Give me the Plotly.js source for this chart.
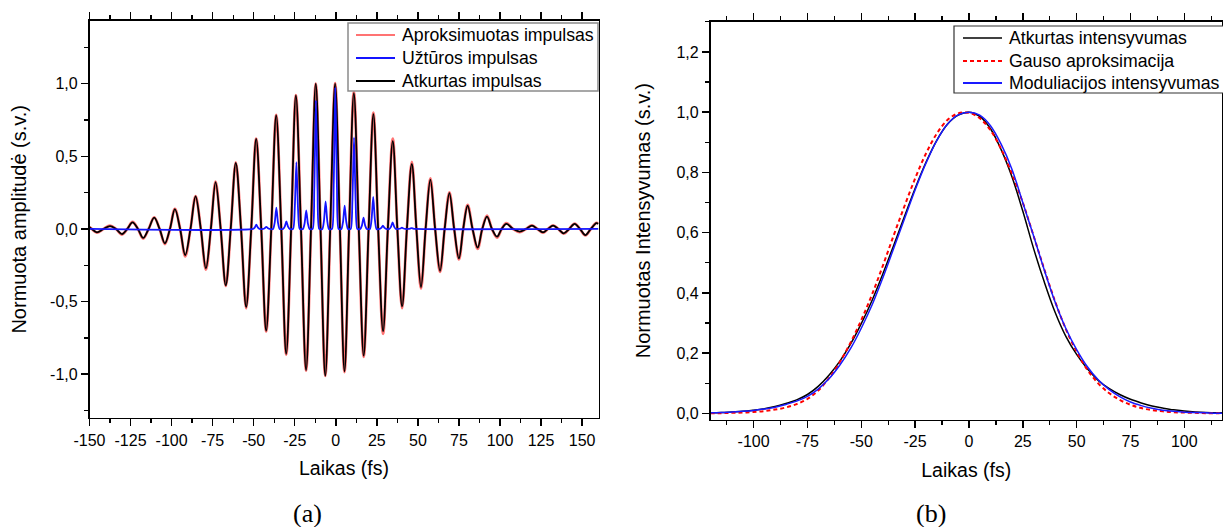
<!DOCTYPE html>
<html>
<head>
<meta charset="utf-8">
<script src="https://cdn.plot.ly/plotly-3.0.1.min.js"></script>
<style>html,body{margin:0;padding:0;background:#fff;}#chart{width:1223px;height:527px;}</style>
</head>
<body>
<div id="chart"></div>
<script>
// ---- Panel (a): pulse field (extrema and zero crossings)
const tPulse = [-150, -148.6, -145.5, -141.5, -137.5, -133.9, -130.2, -127.0, -123.8, -120.5, -117.3, -114.0, -110.6, -107.3, -104.1, -101.0, -98.0, -94.8, -91.7, -88.5, -85.4, -82.2, -79.1, -76.1, -73.2, -70.1, -67.0, -64.0, -60.9, -57.7, -54.6, -51.5, -48.5, -45.4, -42.4, -39.3, -36.3, -33.2, -30.2, -27.2, -24.3, -21.2, -18.1, -15.1, -12.2, -9.3, -6.4, -3.4, -0.4, 2.5, 5.3, 8.1, 11.0, 14.0, 17.0, 20.0, 22.9, 25.8, 28.8, 31.7, 34.7, 37.5, 40.4, 43.3, 46.3, 49.1, 51.9, 54.7, 57.6, 60.5, 63.5, 66.3, 69.2, 72.1, 75.0, 77.6, 80.3, 83.3, 86.4, 89.2, 92.1, 95.1, 98.2, 101.0, 103.9, 108.0, 112.0, 115.8, 119.5, 122.8, 126.2, 129.2, 132.3, 135.5, 138.8, 142.1, 145.5, 148.7, 152.0, 155.3, 158.7, 160];
const atkurtasImpulsas = [0.012, 0, -0.023, 0, 0.020, 0, -0.035, 0, 0.046, 0, -0.062, 0, 0.078, 0, -0.099, 0, 0.136, 0, -0.180, 0, 0.224, 0, -0.272, 0, 0.322, 0, -0.388, 0, 0.455, 0, -0.537, 0, 0.620, 0, -0.699, 0, 0.782, 0, -0.860, 0, 0.920, 0, -0.971, 0, 1.000, 0, -1.010, 0, 1.000, 0, -0.980, 0, 0.935, 0, -0.872, 0, 0.790, 0, -0.704, 0, 0.605, 0, -0.533, 0, 0.448, 0, -0.400, 0, 0.340, 0, -0.288, 0, 0.247, 0, -0.203, 0, 0.161, 0, -0.129, 0, 0.085, 0, -0.053, 0, 0.035, 0, -0.018, 0, 0.023, 0, -0.023, 0, 0.023, 0, -0.030, 0, 0.035, 0, -0.042, 0, 0.040, 0.035];
const aproksimuotasImpulsas = [0.012, 0, -0.025, 0, 0.022, 0, -0.038, 0, 0.048, 0, -0.066, 0, 0.080, 0, -0.104, 0, 0.138, 0, -0.188, 0, 0.226, 0, -0.280, 0, 0.325, 0, -0.392, 0, 0.458, 0, -0.545, 0, 0.622, 0, -0.705, 0, 0.785, 0, -0.865, 0, 0.922, 0, -0.975, 0, 1.000, 0, -1.012, 0, 1.003, 0, -0.985, 0, 0.945, 0, -0.880, 0, 0.800, 0, -0.722, 0, 0.622, 0, -0.545, 0, 0.462, 0, -0.410, 0, 0.348, 0, -0.296, 0, 0.252, 0, -0.210, 0, 0.166, 0, -0.137, 0, 0.092, 0, -0.060, 0, 0.040, 0, -0.022, 0, 0.025, 0, -0.025, 0, 0.025, 0, -0.032, 0, 0.037, 0, -0.044, 0, 0.042, 0.037];
const tUzturos = [-150, -50.4, -49.4, -48.4, -47.4, -46.4, -44.3, -43.3, -42.3, -41.3, -40.3, -38.2, -37.2, -36.2, -35.2, -34.2, -32.1, -31.1, -30.1, -29.1, -28.1, -26.0, -25.0, -24.0, -23.0, -22.0, -20.0, -19.0, -18.0, -17.0, -16.0, -14.1, -13.1, -12.1, -11.1, -10.1, -8.2, -7.2, -6.2, -5.2, -4.2, -2.3, -1.3, -0.3, 0.7, 1.7, 3.4, 4.4, 5.4, 6.4, 7.4, 9.1, 10.1, 11.1, 12.1, 13.1, 14.9, 15.9, 16.9, 17.9, 18.9, 20.8, 21.8, 22.8, 23.8, 24.8, 26.7, 27.7, 28.7, 29.7, 30.7, 32.6, 33.6, 34.6, 35.6, 36.6, 38.3, 39.3, 40.3, 41.3, 42.3, 44.2, 45.2, 46.2, 47.2, 48.2, 160];
const uzturosImpulsas = [0, 0, 0.009, 0.030, 0.009, 0, 0, 0.005, 0.015, 0.005, 0, 0, 0.044, 0.147, 0.044, 0, 0, 0.016, 0.052, 0.016, 0, 0, 0.138, 0.460, 0.138, 0, 0, 0.038, 0.128, 0.038, 0, 0, 0.266, 0.885, 0.266, 0, 0, 0.057, 0.190, 0.057, 0, 0, 0.288, 0.975, 0.288, 0, 0, 0.048, 0.160, 0.048, 0, 0, 0.189, 0.630, 0.189, 0, 0, 0.023, 0.077, 0.023, 0, 0, 0.066, 0.220, 0.066, 0, 0, 0.007, 0.022, 0.007, 0, 0, 0.014, 0.046, 0.014, 0, 0, 0.003, 0.009, 0.003, 0, 0, 0.002, 0.006, 0.002, 0, 0];

// ---- Panel (b): intensity envelopes
const tInt = [-120, -115, -110, -105, -100, -95, -90, -85, -80, -75, -70, -65, -60, -55, -50, -45, -40, -35, -30, -25, -20, -15, -10, -5, 0, 5, 10, 15, 20, 25, 30, 35, 40, 45, 50, 55, 60, 65, 70, 75, 80, 85, 90, 95, 100, 105, 110, 115, 117.5];
const atkurtasIntensyvumas = [0.002, 0.003, 0.005, 0.007, 0.011, 0.016, 0.023, 0.033, 0.045, 0.063, 0.090, 0.127, 0.173, 0.230, 0.298, 0.375, 0.463, 0.557, 0.653, 0.747, 0.833, 0.906, 0.960, 0.990, 1.000, 0.986, 0.945, 0.875, 0.785, 0.672, 0.548, 0.436, 0.336, 0.256, 0.196, 0.148, 0.110, 0.083, 0.063, 0.047, 0.035, 0.025, 0.018, 0.012, 0.008, 0.005, 0.003, 0.002, 0.002];
const gausoAproksimacija = [0.001, 0.001, 0.002, 0.003, 0.005, 0.008, 0.013, 0.020, 0.031, 0.048, 0.076, 0.117, 0.170, 0.235, 0.310, 0.395, 0.490, 0.590, 0.687, 0.780, 0.862, 0.928, 0.974, 0.996, 0.998, 0.980, 0.940, 0.877, 0.795, 0.700, 0.590, 0.478, 0.372, 0.280, 0.205, 0.145, 0.100, 0.068, 0.045, 0.029, 0.018, 0.011, 0.007, 0.004, 0.003, 0.002, 0.001, 0.001, 0.001];
const moduliacijosIntensyvumas = [0.002, 0.003, 0.005, 0.007, 0.010, 0.015, 0.021, 0.030, 0.041, 0.057, 0.081, 0.115, 0.160, 0.215, 0.283, 0.360, 0.450, 0.547, 0.645, 0.742, 0.830, 0.905, 0.960, 0.991, 1.000, 0.990, 0.955, 0.893, 0.810, 0.700, 0.590, 0.476, 0.370, 0.282, 0.212, 0.155, 0.112, 0.080, 0.056, 0.038, 0.026, 0.017, 0.011, 0.007, 0.004, 0.003, 0.002, 0.001, 0.001];

// ---- Tick labels
const xTickValsA = [-150, -125, -100, -75, -50, -25, 0, 25, 50, 75, 100, 125, 150];
const xTickTextA = ['-150', '-125', '-100', '-75', '-50', '-25', '0', '25', '50', '75', '100', '125', '150'];
const yTickValsA = [-1, -0.5, 0, 0.5, 1];
const yTickTextA = ['-1,0', '-0,5', '0,0', '0,5', '1,0'];
const xTickValsB = [-100, -75, -50, -25, 0, 25, 50, 75, 100];
const xTickTextB = ['-100', '-75', '-50', '-25', '0', '25', '50', '75', '100'];
const yTickValsB = [0, 0.2, 0.4, 0.6, 0.8, 1.0, 1.2];
const yTickTextB = ['0,0', '0,2', '0,4', '0,6', '0,8', '1,0', '1,2'];

// ---- Series names / colours
const namesA = ['Aproksimuotas impulsas', 'Užtūros impulsas', 'Atkurtas impulsas'];
const namesB = ['Atkurtas intensyvumas', 'Gauso aproksimacija', 'Moduliacijos intensyvumas'];
const RED_A = 'rgba(255,80,80,0.8)', BLUE_A = '#1414ff', BLACK = '#000000';
const RED_B = '#ff0000', BLUE_B = '#1a1aff';

const FONT = 'Liberation Sans, Arial, sans-serif';
const W = 1223, H = 527;
const px = v => v / W, py = v => 1 - v / H;

const traces = [
  {x: tPulse, y: aproksimuotasImpulsas, name: namesA[0], type: 'scatter', mode: 'lines',
   line: {color: RED_A, width: 2.8, shape: 'spline'}, xaxis: 'x', yaxis: 'y'},
  {x: tPulse, y: atkurtasImpulsas, name: namesA[2], type: 'scatter', mode: 'lines',
   line: {color: BLACK, width: 1.8, shape: 'spline'}, xaxis: 'x', yaxis: 'y'},
  {x: tUzturos, y: uzturosImpulsas, name: namesA[1], type: 'scatter', mode: 'lines',
   line: {color: BLUE_A, width: 1.8, shape: 'spline', smoothing: 0.6}, xaxis: 'x', yaxis: 'y'},
  {x: tInt, y: atkurtasIntensyvumas, name: namesB[0], type: 'scatter', mode: 'lines',
   line: {color: BLACK, width: 1.5, shape: 'spline'}, xaxis: 'x2', yaxis: 'y2'},
  {x: tInt, y: gausoAproksimacija, name: namesB[1], type: 'scatter', mode: 'lines',
   line: {color: RED_B, width: 2, dash: '4px,3px', shape: 'spline'}, xaxis: 'x2', yaxis: 'y2'},
  {x: tInt, y: moduliacijosIntensyvumas, name: namesB[2], type: 'scatter', mode: 'lines',
   line: {color: BLUE_B, width: 1.5, shape: 'spline'}, xaxis: 'x2', yaxis: 'y2'}
];

const axisCommon = {
  showline: true, linecolor: '#000', linewidth: 1.6, showgrid: false, zeroline: false,
  ticks: 'outside', ticklen: 7, tickwidth: 1.5, tickcolor: '#000',
  tickfont: {family: FONT, size: 16, color: '#000'}, fixedrange: true
};
const minorTicks = d => ({tickmode: 'linear', tick0: 0, dtick: d, ticks: 'outside', ticklen: 4, tickwidth: 1.3, tickcolor: '#000'});

// legend boxes (drawn as shapes + text, positioned in pixels)
const shapes = [
  {type: 'rect', xref: 'paper', yref: 'paper', x0: px(348), x1: px(598), y0: py(91), y1: py(23),
   line: {color: '#8a8a8a', width: 1.5}, fillcolor: '#ffffff', layer: 'above'},
  {type: 'rect', xref: 'paper', yref: 'paper', x0: px(954), x1: px(1224), y0: py(93), y1: py(26),
   line: {color: '#333333', width: 1.2}, fillcolor: '#ffffff', layer: 'above'}
];
const annotations = [];
const legA = [{c: 'rgba(255,100,100,0.9)', w: 2, y: 35, n: namesA[0]}, {c: BLUE_A, w: 2, y: 58, n: namesA[1]}, {c: BLACK, w: 2, y: 81, n: namesA[2]}];
legA.forEach(e => {
  shapes.push({type: 'line', xref: 'paper', yref: 'paper', x0: px(356), x1: px(395), y0: py(e.y), y1: py(e.y), line: {color: e.c, width: e.w}, layer: 'above'});
  annotations.push({text: e.n, x: px(400), y: py(e.y), xref: 'paper', yref: 'paper', xanchor: 'left', yanchor: 'middle', showarrow: false,
    font: {family: FONT, size: 17.7, color: '#000'}});
});
const legB = [{c: BLACK, w: 1.5, d: 'solid', y: 38, n: namesB[0]}, {c: RED_B, w: 2, d: '4px,3px', y: 61, n: namesB[1]}, {c: BLUE_B, w: 2, d: 'solid', y: 83, n: namesB[2]}];
legB.forEach(e => {
  shapes.push({type: 'line', xref: 'paper', yref: 'paper', x0: px(963), x1: px(1002), y0: py(e.y), y1: py(e.y), line: {color: e.c, width: e.w, dash: e.d}, layer: 'above'});
  annotations.push({text: e.n, x: px(1007), y: py(e.y), xref: 'paper', yref: 'paper', xanchor: 'left', yanchor: 'middle', showarrow: false,
    font: {family: FONT, size: 17.7, color: '#000'}});
});
annotations.push(
  {text: '(a)', x: px(307.4), y: py(513), xref: 'paper', yref: 'paper', xanchor: 'center', yanchor: 'middle',
   showarrow: false, font: {family: 'Liberation Serif, DejaVu Serif, serif', size: 26, color: '#000'}},
  {text: '(b)', x: px(930.6), y: py(513), xref: 'paper', yref: 'paper', xanchor: 'center', yanchor: 'middle',
   showarrow: false, font: {family: 'Liberation Serif, DejaVu Serif, serif', size: 26, color: '#000'}}
);

const layout = {
  width: W, height: H, autosize: false,
  margin: {l: 0, r: 0, t: 0, b: 0, pad: 0},
  paper_bgcolor: '#fff', plot_bgcolor: '#fff',
  font: {family: FONT, color: '#000'},
  showlegend: false,
  xaxis: Object.assign({}, axisCommon, {
    domain: [px(89.5), px(598.5)], range: [-150, 160], anchor: 'y', mirror: 'ticks',
    tickmode: 'array', tickvals: xTickValsA, ticktext: xTickTextA, minor: minorTicks(12.5),
    title: {text: 'Laikas (fs)', font: {family: FONT, size: 19.5, color: '#000'}, standoff: 14}
  }),
  yaxis: Object.assign({}, axisCommon, {
    domain: [py(417.8), py(20.8)], range: [-1.3, 1.433], anchor: 'x', mirror: true,
    tickmode: 'array', tickvals: yTickValsA, ticktext: yTickTextA, minor: minorTicks(0.25),
    title: {text: 'Normuota amplitudė (s.v.)', font: {family: FONT, size: 20, color: '#000'}, standoff: 18}
  }),
  xaxis2: Object.assign({}, axisCommon, {
    domain: [px(710.5), px(1222)], range: [-120, 117.5], anchor: 'y2', mirror: 'ticks',
    tickmode: 'array', tickvals: xTickValsB, ticktext: xTickTextB, minor: minorTicks(12.5),
    title: {text: 'Laikas (fs)', font: {family: FONT, size: 19.5, color: '#000'}, standoff: 14}
  }),
  yaxis2: Object.assign({}, axisCommon, {
    domain: [py(419.5), py(21.8)], range: [-0.02, 1.3], anchor: 'x2', mirror: true,
    tickmode: 'array', tickvals: yTickValsB, ticktext: yTickTextB, minor: minorTicks(0.1),
    title: {text: 'Normuotas Intensyvumas (s.v.)', font: {family: FONT, size: 20, color: '#000'}, standoff: 20}
  }),
  shapes: shapes,
  annotations: annotations
};

Plotly.newPlot('chart', traces, layout, {displayModeBar: false, staticPlot: true});
</script>
</body>
</html>
